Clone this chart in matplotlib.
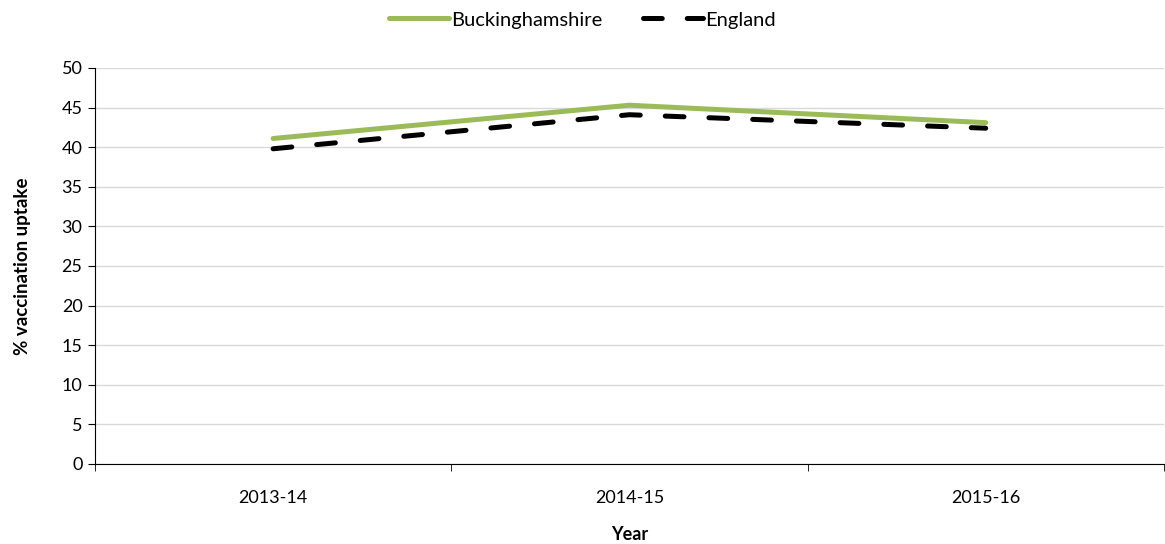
import matplotlib
matplotlib.use('Agg')
import matplotlib.pyplot as plt
import numpy as np

plt.rcParams['font.family'] = ['Lato', 'DejaVu Sans']
plt.rcParams['lines.scale_dashes'] = False

years = ['2013-14', '2014-15', '2015-16']
bucks = [41.1, 45.3, 43.1]
england = [39.8, 44.1, 42.4]

fig = plt.figure(figsize=(11.65, 5.44), dpi=100)
ax = fig.add_axes([95 / 1165, 1 - 464 / 544, 1 - 95 / 1165 - 0.001, (464 - 68) / 544])

x = np.arange(len(years))
ax.plot(x, bucks, color='#9BBB59', lw=3.6, solid_capstyle='round', label='Buckinghamshire')
ax.plot(x, england, color='black', lw=3.6, dashes=(13.5, 18), dash_capstyle='round', label='England')

ax.set_xlim(-0.5, len(years) - 0.5)
ax.set_ylim(0, 50)
ax.set_yticks(range(0, 51, 5))
ax.yaxis.grid(True, color='#d9d9d9', lw=1)
ax.set_axisbelow(True)

ax.set_xticks(x)
ax.set_xticklabels(years)
ax.set_xticks(np.arange(-0.5, len(years), 1), minor=True)
ax.tick_params(axis='x', which='major', length=0, pad=19, labelsize=13)
ax.tick_params(axis='x', which='minor', length=5, direction='out')
ax.tick_params(axis='y', length=5, direction='out', labelsize=13, pad=4)

for s in ['top', 'right']:
    ax.spines[s].set_visible(False)
ax.spines['left'].set_color('black')
ax.spines['bottom'].set_color('black')

ax.set_xlabel('Year', fontweight='bold', fontsize=13, labelpad=14)
ax.set_ylabel('% vaccination uptake', fontweight='bold', fontsize=13.5, labelpad=22)

fig.legend(loc='center', bbox_to_anchor=(0.5, 1 - 20 / 544), ncol=2, frameon=False,
           fontsize=14.5, handlelength=3.0, handletextpad=0.1, columnspacing=2.0)

fig.savefig('out.png', dpi=100)
